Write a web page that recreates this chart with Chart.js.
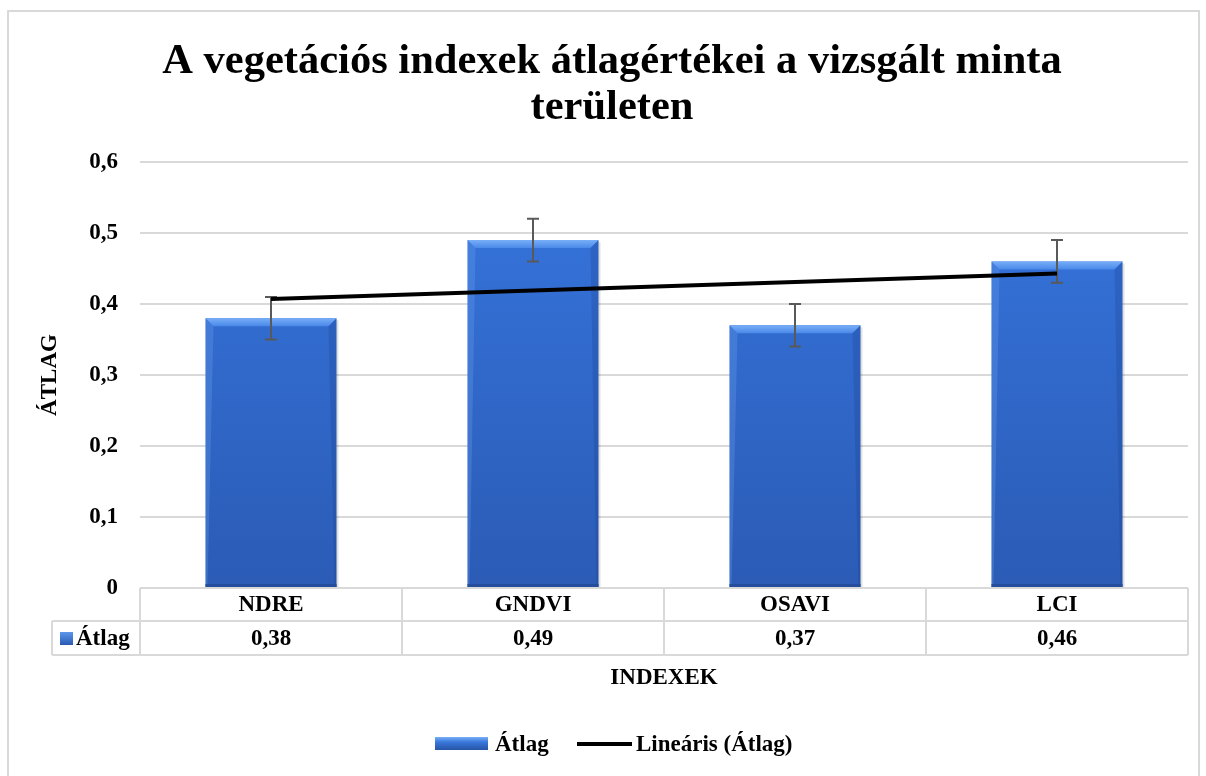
<!DOCTYPE html>
<html>
<head>
<meta charset="utf-8">
<script src="https://cdn.jsdelivr.net/npm/chart.js@4.4.1/dist/chart.umd.min.js"></script>
<style>
  html, body { margin: 0; padding: 0; background: #fff; }
  #wrap { width: 1206px; height: 776px; position: relative; }
</style>
</head>
<body>
<div id="wrap"><canvas id="chart"></canvas></div>
<script>
// data
const categories = ["NDRE", "GNDVI", "OSAVI", "LCI"];
const atlag = [0.38, 0.49, 0.37, 0.46];
const hiba = [0.03, 0.03, 0.03, 0.03];
const yTicks = [0, 0.1, 0.2, 0.3, 0.4, 0.5, 0.6];
const seriesName = "Átlag";
const trendName = "Lineáris (Átlag)";
const titleLines = ["A vegetációs indexek átlagértékei a vizsgált minta", "területen"];

// linear trendline (least squares, like Excel)
const n = atlag.length;
const mx = (n + 1) / 2;
const my = atlag.reduce((s, v) => s + v, 0) / n;
let sxy = 0, sxx = 0;
atlag.forEach((v, i) => { sxy += (i + 1 - mx) * (v - my); sxx += (i + 1 - mx) ** 2; });
const slope = sxy / sxx;
const trend = atlag.map((v, i) => my + slope * (i + 1 - mx));

const FONT = "'Liberation Serif', 'Times New Roman', serif";
const TXT = "bold 23px " + FONT;
const comma = (v) => String(v).replace(".", ",");

function barGradient(ctx, top, bottom) {
	const g = ctx.createLinearGradient(0, top, 0, bottom);
	g.addColorStop(0, "#3676DF");
	g.addColorStop(1, "#2B5BB5");
	return g;
}

// frame, title, bevels, error bars, y title, data table, x title, legend
const decor = {
	id: "decor",
	beforeDraw(chart) {
		const ctx = chart.ctx;
		ctx.save();
		ctx.strokeStyle = "#d9d9d9";
		ctx.lineWidth = 2;
		ctx.strokeRect(8, 11, 1191, 800);
		// title
		ctx.fillStyle = "#000";
		ctx.font = "bold 42.5px " + FONT;
		ctx.textAlign = "center";
		ctx.textBaseline = "middle";
		ctx.fillText(titleLines[0], 612, 62);
		ctx.fillText(titleLines[1], 612, 108);
		ctx.restore();
	},
	afterDatasetDraw(chart, args) {
		if (args.index !== 0) return;
		const ctx = chart.ctx;
		const y = chart.scales.y;
		const meta = chart.getDatasetMeta(0);
		ctx.save();
		meta.data.forEach((bar) => {
			const L = bar.x - bar.width / 2, R = bar.x + bar.width / 2;
			const T = bar.y, B = bar.base;
			const d = 8;
			// top bevel
			let g = ctx.createLinearGradient(0, T, 0, T + d);
			g.addColorStop(0, "#78AEF7");
			g.addColorStop(1, "#4A89EA");
			ctx.fillStyle = g;
			ctx.beginPath();
			ctx.moveTo(L, T); ctx.lineTo(R, T); ctx.lineTo(R - d, T + d); ctx.lineTo(L + d, T + d);
			ctx.closePath(); ctx.fill();
			// left side lighter
			ctx.fillStyle = "rgba(120,170,245,0.25)";
			ctx.beginPath();
			ctx.moveTo(L, T); ctx.lineTo(L + d, T + d); ctx.lineTo(L + 2, B); ctx.lineTo(L, B);
			ctx.closePath(); ctx.fill();
			// right side darker
			ctx.fillStyle = "rgba(20,50,120,0.2)";
			ctx.beginPath();
			ctx.moveTo(R, T); ctx.lineTo(R - d, T + d); ctx.lineTo(R - 2, B); ctx.lineTo(R, B);
			ctx.closePath(); ctx.fill();
			// bottom edge
			ctx.fillStyle = "#244E9C";
			ctx.fillRect(L, B - 3, R - L, 3);
			// soft shadow
			ctx.fillStyle = "rgba(0,0,0,0.12)";
			ctx.fillRect(R, T + 2, 2, B - T - 2);
		});
		// error bars
		ctx.strokeStyle = "#595959";
		ctx.lineWidth = 2;
		meta.data.forEach((bar, i) => {
			const yt = y.getPixelForValue(atlag[i] + hiba[i]);
			const yb = y.getPixelForValue(atlag[i] - hiba[i]);
			ctx.beginPath();
			ctx.moveTo(bar.x, yt); ctx.lineTo(bar.x, yb);
			ctx.moveTo(bar.x - 6, yt); ctx.lineTo(bar.x + 6, yt);
			ctx.moveTo(bar.x - 6, yb); ctx.lineTo(bar.x + 6, yb);
			ctx.stroke();
		});
		ctx.restore();
	},
	afterDraw(chart) {
		const ctx = chart.ctx;
		const area = chart.chartArea;
		const x = chart.scales.x;
		ctx.save();
		// y title
		ctx.fillStyle = "#000";
		ctx.font = TXT;
		ctx.textAlign = "center";
		ctx.textBaseline = "middle";
		ctx.translate(50, (area.top + area.bottom) / 2);
		ctx.rotate(-Math.PI / 2);
		ctx.fillText("ÁTLAG", 0, 0);
		ctx.restore();

		// data table
		ctx.save();
		const r0 = area.bottom, r1 = r0 + 33, r2 = r1 + 34;
		const band = (area.right - area.left) / categories.length;
		ctx.strokeStyle = "#d9d9d9";
		ctx.lineWidth = 2;
		ctx.beginPath();
		ctx.moveTo(area.left, r0); ctx.lineTo(area.right, r0);
		ctx.moveTo(52, r1); ctx.lineTo(area.right, r1);
		ctx.moveTo(52, r2); ctx.lineTo(area.right, r2);
		ctx.moveTo(52, r1); ctx.lineTo(52, r2);
		for (let i = 0; i <= categories.length; i++) {
			const xx = area.left + band * i;
			ctx.moveTo(xx, r0); ctx.lineTo(xx, r2);
		}
		ctx.stroke();
		ctx.fillStyle = "#000";
		ctx.font = TXT;
		ctx.textAlign = "center";
		ctx.textBaseline = "middle";
		categories.forEach((c, i) => {
			const cx = x.getPixelForValue(i);
			ctx.fillText(c, cx, (r0 + r1) / 2 + 1);
			ctx.fillText(comma(atlag[i]), cx, (r1 + r2) / 2 + 1);
		});
		// row key
		let g = ctx.createLinearGradient(0, r1 + 10, 0, r1 + 24);
		g.addColorStop(0, "#5F9CF0");
		g.addColorStop(1, "#2A5AB3");
		ctx.fillStyle = g;
		ctx.fillRect(60, r1 + 11, 13, 13);
		ctx.fillStyle = "#000";
		ctx.textAlign = "left";
		ctx.fillText(seriesName, 76, (r1 + r2) / 2 + 1);

		// x title
		ctx.textAlign = "center";
		ctx.fillText("INDEXEK", (area.left + area.right) / 2, 678);

		// legend
		const ly = 744;
		g = ctx.createLinearGradient(0, ly - 7, 0, ly + 7);
		g.addColorStop(0, "#7AB0F7");
		g.addColorStop(0.35, "#3A78DD");
		g.addColorStop(1, "#24509E");
		ctx.fillStyle = g;
		ctx.fillRect(435, ly - 7, 53, 13);
		ctx.fillStyle = "#000";
		ctx.textAlign = "left";
		ctx.fillText(seriesName, 495, ly + 1);
		ctx.strokeStyle = "#000";
		ctx.lineWidth = 4;
		ctx.beginPath();
		ctx.moveTo(577, ly); ctx.lineTo(632, ly);
		ctx.stroke();
		ctx.fillText(trendName, 636, ly + 1);
		ctx.restore();
	}
};

new Chart(document.getElementById("chart"), {
	type: "bar",
	data: {
		labels: categories,
		datasets: [
			{
				label: seriesName,
				data: atlag,
				order: 1,
				categoryPercentage: 1,
				barPercentage: 0.5,
				backgroundColor: (c) => {
					const a = c.chart.chartArea;
					if (!a) return "#3370D8";
					return barGradient(c.chart.ctx, a.top, a.bottom);
				},
			},
			{
				type: "line",
				label: trendName,
				data: trend,
				order: 0,
				borderColor: "#000",
				borderWidth: 4,
				pointRadius: 0,
				fill: false,
			},
		],
	},
	options: {
		responsive: true,
		maintainAspectRatio: false,
		animation: false,
		layout: { padding: { left: 0, right: 18, top: 162, bottom: 0 } },
		plugins: {
			legend: { display: false },
			tooltip: { enabled: false },
			title: { display: false },
		},
		scales: {
			x: {
				ticks: { display: false },
				grid: { display: false },
				border: { display: false },
				afterFit: (s) => { s.height = 188; },
			},
			y: {
				min: 0,
				max: 0.6,
				afterBuildTicks: (s) => { s.ticks = yTicks.map((v) => ({ value: v })); },
				ticks: {
					color: "#000",
					padding: 22,
					font: { family: FONT, size: 23, weight: "bold" },
					callback: (v) => comma(Math.round(v * 10) / 10),
				},
				grid: { color: "#d9d9d9", lineWidth: 2, drawTicks: false },
				border: { display: false },
				afterFit: (s) => { s.width = 140; },
			},
		},
	},
	plugins: [decor],
});
</script>
</body>
</html>
